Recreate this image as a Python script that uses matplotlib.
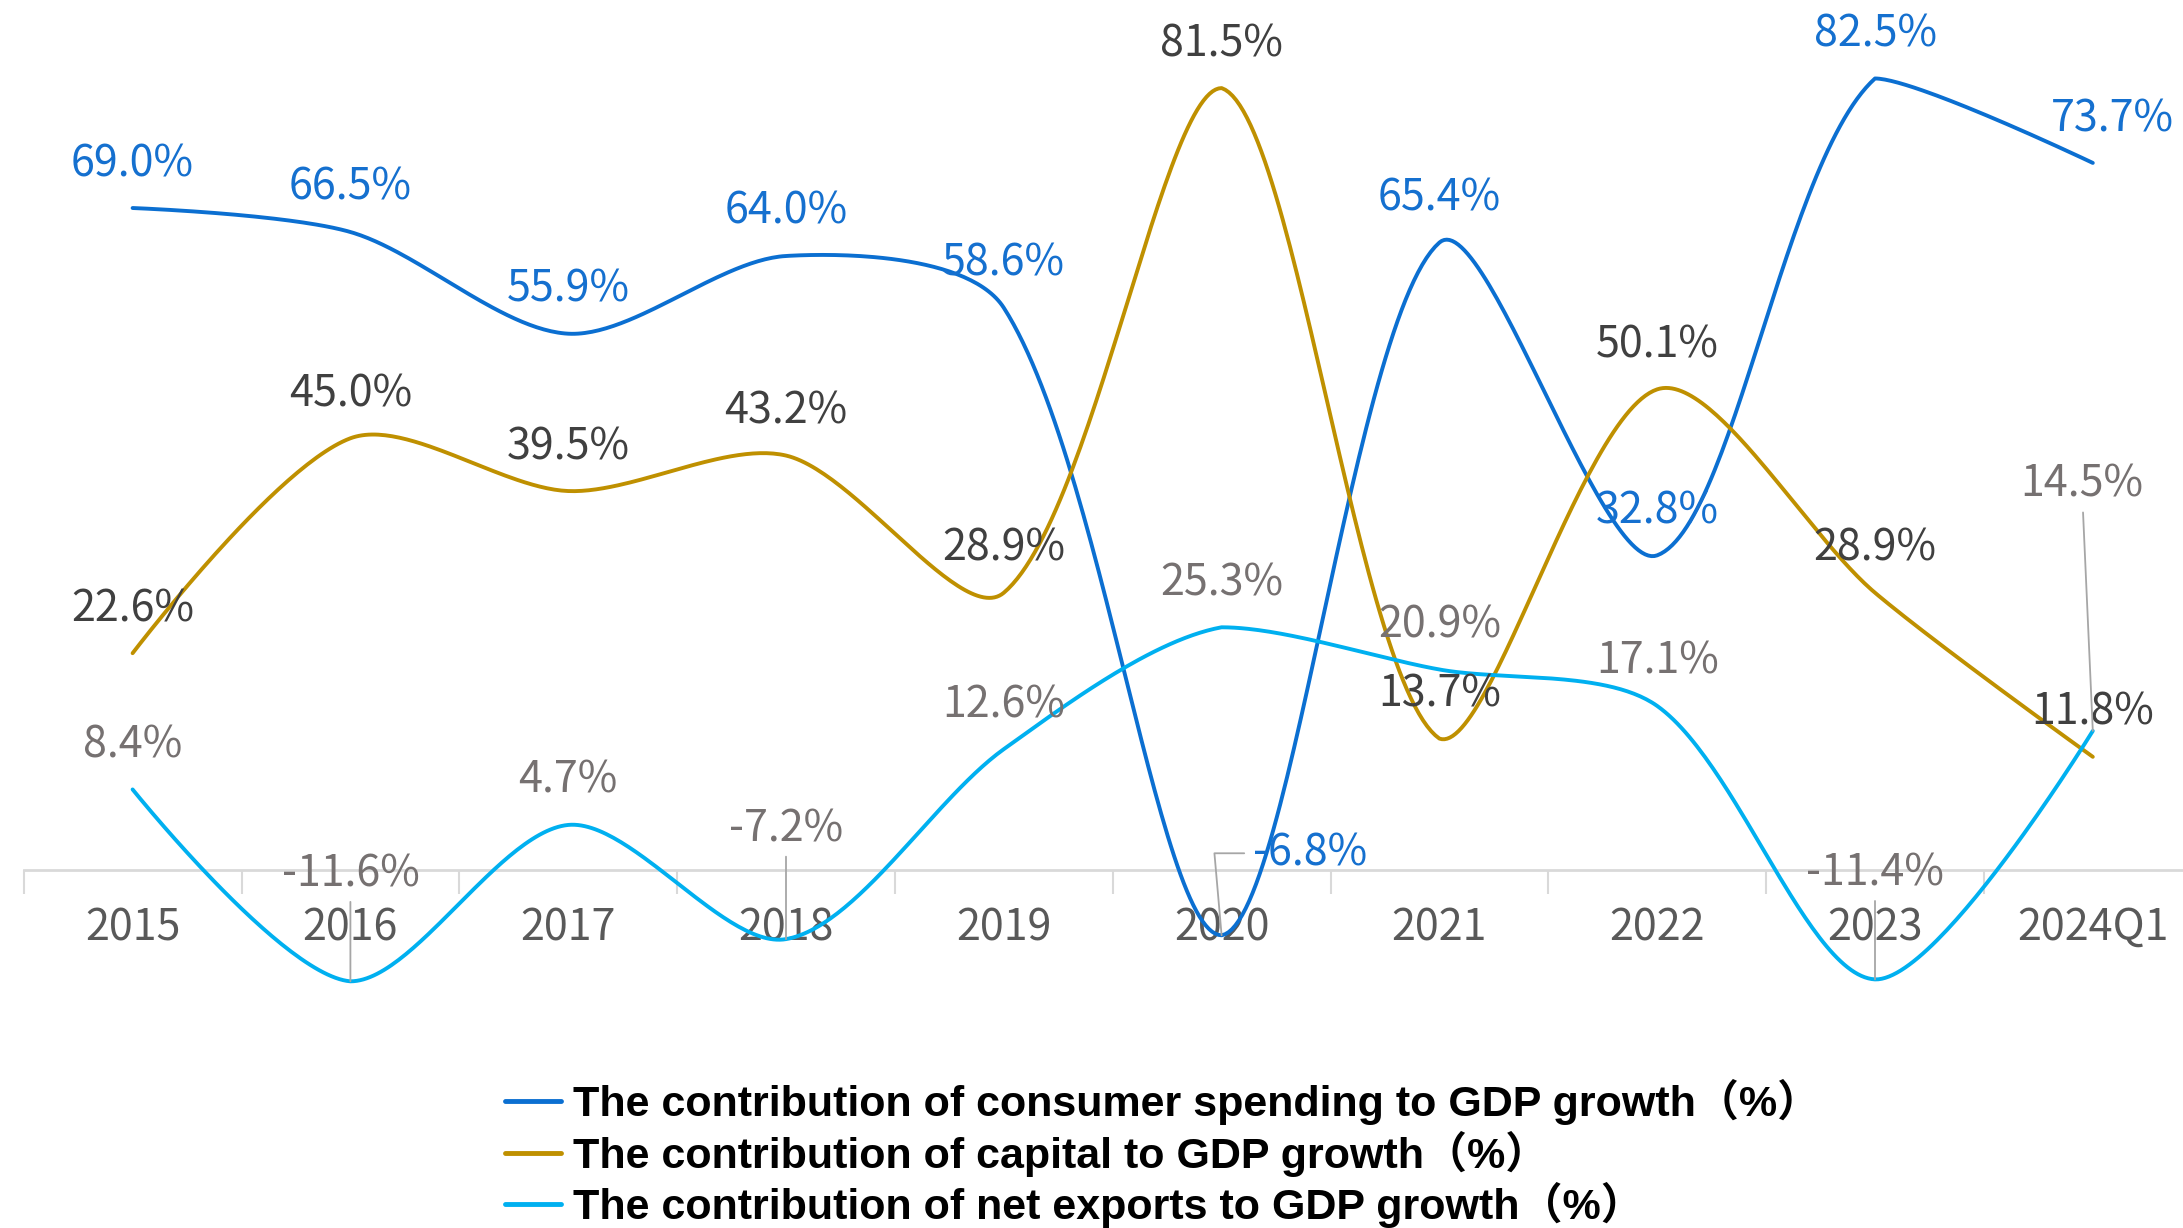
import numpy as np
import matplotlib
matplotlib.use("Agg")
import matplotlib.pyplot as plt

# data
years = ["2015", "2016", "2017", "2018", "2019", "2020", "2021", "2022", "2023", "2024Q1"]
consumer = [69.0, 66.5, 55.9, 64.0, 58.6, -6.8, 65.4, 32.8, 82.5, 73.7]
capital = [22.6, 45.0, 39.5, 43.2, 28.9, 81.5, 13.7, 50.1, 28.9, 11.8]
net_exports = [8.4, -11.6, 4.7, -7.2, 12.6, 25.3, 20.9, 17.1, -11.4, 14.5]

names = ["The contribution of consumer spending to GDP growth（%）",
         "The contribution of capital to GDP growth（%）",
         "The contribution of net exports to GDP growth（%）"]

line_colors = ["#0b6fd1", "#bf9000", "#00b0f0"]
label_colors = ["#1570cf", "#404040", "#767171"]

label_font = ["Noto Sans CJK SC", "DejaVu Sans"]


def smooth_line(pts, smooth=0.3, n=60):
    # bezier through the points in screen space; handles follow the
    # neighbours and are kept inside the bounding box of the series
    lo, hi = pts.min(axis=0), pts.max(axis=0)
    t = np.linspace(0, 1, n)[:, None]
    out = [pts[:1]]
    cp0 = pts[0].copy()
    N = len(pts)
    for i in range(1, N):
        p = pts[i]
        if i == N - 1:
            cp1 = p.copy()
            nxt = None
        else:
            v = pts[i + 1] - pts[i - 1]
            lp = np.hypot(*(p - pts[i - 1]))
            ln = np.hypot(*(pts[i + 1] - p))
            r = ln / (ln + lp)
            cp1 = p - v * smooth * (1 - r)
            nxt = p + v * smooth * r
        cp0 = np.clip(cp0, lo, hi)
        cp1 = np.clip(cp1, lo, hi)
        p0 = pts[i - 1]
        seg = (1 - t) ** 3 * p0 + 3 * (1 - t) ** 2 * t * cp0 + 3 * (1 - t) * t ** 2 * cp1 + t ** 3 * p
        out.append(seg[1:])
        cp0 = nxt
    return np.vstack(out)


fig = plt.figure(figsize=(21.83, 12.28), dpi=100)
ax = fig.add_axes([23.7 / 2183, 0, 2178 / 2183, 1])
ax.set_xlim(-0.5, len(years) - 0.5)
ax.set_ylim(-37.31, 90.68)

x = np.arange(len(years))
series = [consumer, capital, net_exports]
for vals, name, c in zip(series, names, line_colors):
    pix = ax.transData.transform(np.column_stack([x, vals]))
    curve = ax.transData.inverted().transform(smooth_line(pix))
    ax.plot(curve[:, 0], curve[:, 1], color=c, lw=2.8, label=name,
            solid_capstyle="round", zorder=3)

# data labels: default sits above the point, a few are moved (offset in pixels)
moved = {
    (0, 5): ((88, 82), "elbow"),
    (0, 9): ((20, 43), None),
    (2, 1): ((0, 107), "line"),
    (2, 3): ((0, 110), "line"),
    (2, 8): ((0, 106), "line"),
    (2, 9): ((-11, 246), "line"),
}
for s, (vals, lc) in enumerate(zip(series, label_colors)):
    for i, v in enumerate(vals):
        off, leader = moved.get((s, i), ((0, 44), None))
        kw = {}
        if leader == "line":
            kw["arrowprops"] = dict(arrowstyle="-", color="#a6a6a6", lw=1.3,
                                    shrinkA=2, shrinkB=0)
        elif leader == "elbow":
            kw["arrowprops"] = dict(arrowstyle="-", color="#a6a6a6", lw=1.3,
                                    shrinkA=4, shrinkB=0, relpos=(0, 0.5),
                                    connectionstyle="angle,angleA=180,angleB=95,rad=0")
        ax.annotate(f"{v:.1f}%", xy=(i, v), xytext=off, textcoords="offset pixels",
                    ha="center", va="center", fontsize=31, color=lc,
                    family=label_font, zorder=4, **kw)

# category axis sitting at zero
for sp in ["left", "right", "top"]:
    ax.spines[sp].set_visible(False)
ax.spines["bottom"].set_position(("data", 0))
ax.spines["bottom"].set_color("#d9d9d9")
ax.spines["bottom"].set_linewidth(2)
ax.set_yticks([])
ax.set_xticks(np.arange(-0.5, len(years), 1.0))
ax.set_xticklabels([])
ax.tick_params(axis="x", which="major", length=17, width=1.5, color="#d9d9d9", direction="out")
ax.set_xticks(x, minor=True)
ax.set_xticklabels(years, minor=True, fontsize=31, color="#595959", family=label_font)
ax.tick_params(axis="x", which="minor", length=0, pad=26)

leg = fig.legend(loc="upper left", bbox_to_anchor=(505 / 2183, 1 - 1079 / 1228),
                 frameon=False, handlelength=1.3, handletextpad=0.28,
                 labelspacing=0.13, borderpad=0, borderaxespad=0,
                 prop=dict(family=["Liberation Sans", "Noto Sans CJK SC"],
                           weight="bold", size=31))
for h in leg.legend_handles:
    h.set_linewidth(3.5)

fig.savefig("out.png", dpi=100)
